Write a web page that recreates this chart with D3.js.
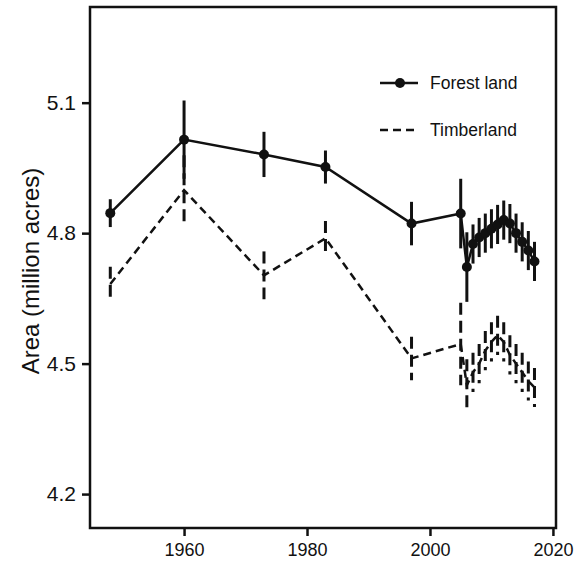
<!DOCTYPE html>
<html>
<head>
<meta charset="utf-8">
<script src="https://cdn.jsdelivr.net/npm/d3@7"></script>
<style>
  body { margin: 0; background: #fff; }
  text { font-family: "Liberation Sans", Arial, sans-serif; fill: #111; }
</style>
</head>
<body>
<div id="chart"></div>
<script>
// survey years and estimates (million acres)
var years = [1948, 1960, 1973, 1983, 1997, 2005, 2006, 2007, 2008, 2009, 2010, 2011, 2012, 2013, 2014, 2015, 2016, 2017];
var forestLand = [4.846, 5.015, 4.981, 4.952, 4.822, 4.845, 4.722, 4.775, 4.79, 4.80, 4.81, 4.82, 4.83, 4.822, 4.80, 4.78, 4.76, 4.735];
var forestErr = [0.032, 0.09, 0.052, 0.038, 0.05, 0.08, 0.08, 0.045, 0.045, 0.045, 0.045, 0.045, 0.045, 0.045, 0.045, 0.045, 0.045, 0.045];
var timberland = [4.683, 4.899, 4.703, 4.788, 4.512, 4.545, 4.45, 4.48, 4.50, 4.53, 4.55, 4.565, 4.55, 4.52, 4.50, 4.48, 4.46, 4.445];
var timberErr = [0.04, 0.08, 0.055, 0.04, 0.05, 0.095, 0.06, 0.045, 0.045, 0.045, 0.045, 0.045, 0.045, 0.045, 0.045, 0.045, 0.045, 0.045];

var xTicks = [1960, 1980, 2000, 2020];
var yTicks = [4.2, 4.5, 4.8, 5.1];
var legendLabels = ["Forest land", "Timberland"];

var width = 574, height = 565;
var plotLeft = 90, plotRight = 556, plotTop = 7, plotBottom = 528;

var svg = d3.select("#chart").append("svg")
  .attr("width", width).attr("height", height);

var x = d3.scaleLinear().domain([1944.7, 2020.5]).range([plotLeft, plotRight]);
var y = d3.scaleLinear().domain([4.122, 5.32]).range([plotBottom, plotTop]);

function series(vals, errs) {
  return years.map(function(yr, i) { return {year: yr, v: vals[i], e: errs[i]}; });
}
var forest = series(forestLand, forestErr);
var timber = series(timberland, timberErr);

// axes
var xAxis = svg.append("g").attr("transform", "translate(0," + plotBottom + ")")
  .call(d3.axisBottom(x).tickValues(xTicks).tickFormat(d3.format("d")).tickSize(8).tickPadding(7));
var yAxis = svg.append("g").attr("transform", "translate(" + plotLeft + ",0)")
  .call(d3.axisLeft(y).tickValues(yTicks).tickFormat(d3.format(".1f")).tickSize(8).tickPadding(6));

[xAxis, yAxis].forEach(function(g) {
  g.select(".domain").remove();
  g.selectAll(".tick line").attr("stroke", "#111").attr("stroke-width", 2.5);
});
xAxis.selectAll(".tick text").attr("font-size", 18).attr("fill", "#111");
yAxis.selectAll(".tick text").attr("font-size", 21).attr("fill", "#111");

// frame
svg.append("rect")
  .attr("x", plotLeft).attr("y", plotTop)
  .attr("width", plotRight - plotLeft).attr("height", plotBottom - plotTop)
  .attr("fill", "none").attr("stroke", "#111").attr("stroke-width", 2.5);

svg.append("text")
  .attr("transform", "translate(39,271) rotate(-90)")
  .attr("text-anchor", "middle")
  .attr("font-size", 24)
  .text("Area (million acres)");

var line = d3.line().x(function(d) { return x(d.year); }).y(function(d) { return y(d.v); });

// timberland: dashed line and dashed error bars, no markers
svg.append("g").selectAll("line").data(timber).enter().append("line")
  .attr("x1", function(d) { return x(d.year); })
  .attr("x2", function(d) { return x(d.year); })
  .attr("y1", function(d) { return y(d.v + d.e); })
  .attr("y2", function(d) { return y(d.v - d.e); })
  .attr("stroke", "#111").attr("stroke-width", 3)
  .attr("stroke-dasharray", "12,6");

svg.append("path").datum(timber)
  .attr("d", line)
  .attr("fill", "none").attr("stroke", "#111").attr("stroke-width", 2.5)
  .attr("stroke-dasharray", "8,5");

// forest land: solid line, error bars and markers
svg.append("g").selectAll("line").data(forest).enter().append("line")
  .attr("x1", function(d) { return x(d.year); })
  .attr("x2", function(d) { return x(d.year); })
  .attr("y1", function(d) { return y(d.v + d.e); })
  .attr("y2", function(d) { return y(d.v - d.e); })
  .attr("stroke", "#111").attr("stroke-width", 3);

svg.append("path").datum(forest)
  .attr("d", line)
  .attr("fill", "none").attr("stroke", "#111").attr("stroke-width", 2.5);

svg.append("g").selectAll("circle").data(forest).enter().append("circle")
  .attr("cx", function(d) { return x(d.year); })
  .attr("cy", function(d) { return y(d.v); })
  .attr("r", 5)
  .attr("fill", "#111");

// legend
var legend = svg.append("g").attr("transform", "translate(380,83)");
legend.append("line").attr("x1", 0).attr("x2", 38).attr("y1", 0).attr("y2", 0)
  .attr("stroke", "#111").attr("stroke-width", 2.5);
legend.append("circle").attr("cx", 20).attr("cy", 0).attr("r", 5).attr("fill", "#111");
legend.append("line").attr("x1", 0).attr("x2", 38).attr("y1", 47).attr("y2", 47)
  .attr("stroke", "#111").attr("stroke-width", 2.5).attr("stroke-dasharray", "8,5");
legend.selectAll("text").data(legendLabels).enter().append("text")
  .attr("x", 50)
  .attr("y", function(d, i) { return 6 + i * 47; })
  .attr("font-size", 17.5)
  .text(function(d) { return d; });
</script>
</body>
</html>
